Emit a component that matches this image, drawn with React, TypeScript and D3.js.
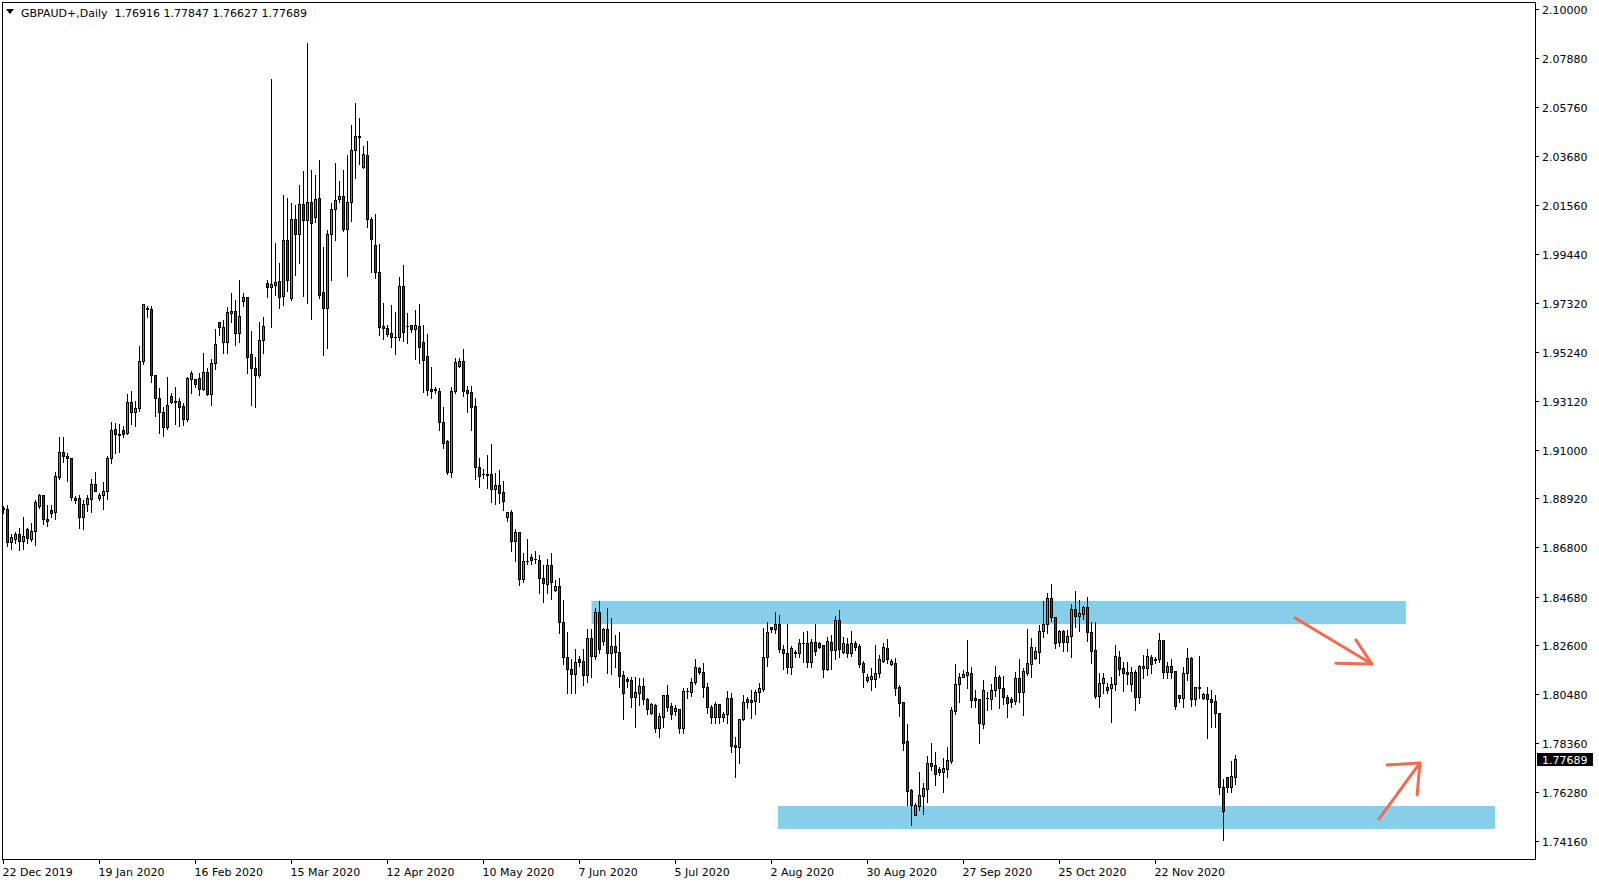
import React from 'react';
import * as d3 from 'd3';

const SYMBOL = 'GBPAUD+,Daily';
const LAST_OHLC = ['1.76916', '1.77847', '1.76627', '1.77689'];

const OPEN = [
  1.8846, 1.8845, 1.8704, 1.8718, 1.8737, 1.8707, 1.8759, 1.8717, 1.8750, 1.8860,
  1.8905, 1.8804, 1.8842, 1.8832, 1.8985, 1.9090, 1.9073, 1.9064, 1.8892, 1.8892,
  1.8813, 1.8866, 1.8890, 1.8952, 1.8893, 1.8905, 1.8922, 1.9064, 1.9189, 1.9169,
  1.9185, 1.9172, 1.9305, 1.9262, 1.9280, 1.9482, 1.9709, 1.9709, 1.9422, 1.9323,
  1.9262, 1.9198, 1.9331, 1.9310, 1.9310, 1.9289, 1.9232, 1.9407, 1.9407, 1.9409,
  1.9364, 1.9435, 1.9343, 1.9473, 1.9650, 1.9566, 1.9566, 1.9689, 1.9697, 1.9603,
  1.9743, 1.9758, 1.9513, 1.9452, 1.9424, 1.9572, 1.9818, 1.9803, 1.9812, 1.9827,
  1.9765, 2.0003, 1.9756, 2.0094, 2.0032, 2.0158, 2.0092, 2.0167, 2.0105, 2.0184,
  1.9779, 1.9713, 2.0029, 2.0137, 2.0180, 2.0193, 2.0053, 2.0167, 2.0391, 2.0451,
  2.0320, 2.0369, 2.0094, 1.9982, 1.9865, 1.9635, 1.9624, 1.9603, 1.9585, 1.9585,
  1.9805, 1.9634, 1.9637, 1.9622, 1.9633, 1.9565, 1.9505, 1.9363, 1.9360, 1.9354,
  1.9219, 1.9139, 1.9006, 1.9354, 1.9463, 1.9483, 1.9358, 1.9350, 1.9289, 1.9028,
  1.8995, 1.8995, 1.8997, 1.8931, 1.8949, 1.8919, 1.8813, 1.8833, 1.8709, 1.8747,
  1.8543, 1.8622, 1.8638, 1.8629, 1.8626, 1.8549, 1.8522, 1.8603, 1.8498, 1.8513,
  1.8358, 1.8207, 1.8155, 1.8134, 1.8200, 1.8191, 1.8130, 1.8289, 1.8214, 1.8401,
  1.8276, 1.8328, 1.8224, 1.8255, 1.8229, 1.8130, 1.8114, 1.8110, 1.8035, 1.8052,
  1.8082, 1.8026, 1.7969, 1.8002, 1.7902, 1.7949, 1.8045, 1.7996, 1.7975, 1.7983,
  1.7902, 1.8062, 1.8059, 1.8100, 1.8161, 1.8143, 1.8078, 1.7992, 1.7951, 1.8005,
  1.7951, 1.7963, 1.8031, 1.7830, 1.7822, 1.7940, 1.8028, 1.8023, 1.8020, 1.8057,
  1.8070, 1.8207, 1.8336, 1.8330, 1.8351, 1.8243, 1.8224, 1.8164, 1.8231, 1.8227,
  1.8267, 1.8267, 1.8186, 1.8272, 1.8267, 1.8259, 1.8155, 1.8273, 1.8239, 1.8367,
  1.8231, 1.8265, 1.8227, 1.8267, 1.8256, 1.8181, 1.8110, 1.8115, 1.8115, 1.8138,
  1.8191, 1.8246, 1.8177, 1.8181, 1.8078, 1.8013, 1.7847, 1.7636, 1.7528, 1.7568,
  1.7610, 1.7641, 1.7751, 1.7743, 1.7726, 1.7713, 1.7727, 1.7762, 1.7977, 1.8092,
  1.8124, 1.8131, 1.8138, 1.8032, 1.8026, 1.7919, 1.8032, 1.8029, 1.8066, 1.8122,
  1.8074, 1.8036, 1.8028, 1.8020, 1.8118, 1.8058, 1.8138, 1.8177, 1.8206, 1.8231,
  1.8320, 1.8349, 1.8461, 1.8380, 1.8272, 1.8320, 1.8274, 1.8298, 1.8414, 1.8386,
  1.8392, 1.8422, 1.8315, 1.8238, 1.8042, 1.8095, 1.8081, 1.8076, 1.8091, 1.8209,
  1.8160, 1.8143, 1.8091, 1.8143, 1.8035, 1.8162, 1.8162, 1.8210, 1.8194, 1.8198,
  1.8282, 1.8145, 1.8170, 1.8148, 1.8045, 1.8031, 1.8138, 1.8203, 1.8026, 1.8079,
  1.8033, 1.8048, 1.8026, 1.8018, 1.7967, 1.7647, 1.7690, 1.7647, 1.76916,
];

const HIGH = [
  1.8859, 1.8862, 1.8738, 1.8747, 1.8764, 1.8810, 1.8762, 1.8787, 1.8885, 1.8911,
  1.8908, 1.8862, 1.8862, 1.9003, 1.9155, 1.9155, 1.9086, 1.9064, 1.8902, 1.8906,
  1.8885, 1.8905, 1.8974, 1.9003, 1.8916, 1.8962, 1.9075, 1.9221, 1.9215, 1.9212,
  1.9203, 1.9341, 1.9354, 1.9311, 1.9548, 1.9727, 1.9720, 1.9720, 1.9422, 1.9366,
  1.9286, 1.9413, 1.9347, 1.9373, 1.9323, 1.9301, 1.9416, 1.9442, 1.9407, 1.9430,
  1.9516, 1.9453, 1.9491, 1.9620, 1.9650, 1.9660, 1.9717, 1.9775, 1.9746, 1.9832,
  1.9775, 1.9758, 1.9612, 1.9499, 1.9653, 1.9674, 1.9832, 2.0696, 1.9990, 1.9904,
  2.0198, 2.0184, 2.0163, 2.0154, 2.0241, 2.0302, 2.0852, 2.0306, 2.0284, 2.0349,
  1.9973, 2.0047, 2.0165, 2.0335, 2.0258, 2.0306, 2.0371, 2.0500, 2.0594, 2.0530,
  2.0409, 2.0431, 2.0105, 2.0116, 1.9987, 1.9732, 1.9638, 1.9723, 1.9694, 1.9845,
  1.9897, 1.9689, 1.9638, 1.9703, 1.9729, 1.9638, 1.9600, 1.9459, 1.9370, 1.9366,
  1.9285, 1.9143, 1.9370, 1.9495, 1.9495, 1.9535, 1.9376, 1.9376, 1.9323, 1.9067,
  1.9018, 1.9078, 1.9126, 1.9000, 1.9014, 1.8967, 1.8833, 1.8842, 1.8758, 1.8747,
  1.8658, 1.8717, 1.8651, 1.8666, 1.8648, 1.8605, 1.8630, 1.8655, 1.8540, 1.8547,
  1.8454, 1.8318, 1.8199, 1.8242, 1.8213, 1.8242, 1.8328, 1.8328, 1.8418, 1.8450,
  1.8332, 1.8420, 1.8375, 1.8303, 1.8318, 1.8148, 1.8124, 1.8124, 1.8124, 1.8118,
  1.8118, 1.8033, 1.8012, 1.8005, 1.7969, 1.8045, 1.8088, 1.8009, 1.8002, 1.7983,
  1.8074, 1.8074, 1.8117, 1.8199, 1.8167, 1.8184, 1.8098, 1.8002, 1.8016, 1.8005,
  1.7973, 1.8063, 1.8055, 1.7863, 1.7940, 1.8045, 1.8038, 1.8066, 1.8066, 1.8095,
  1.8332, 1.8358, 1.8336, 1.8401, 1.8389, 1.8260, 1.8351, 1.8256, 1.8239, 1.8285,
  1.8318, 1.8322, 1.8285, 1.8351, 1.8274, 1.8259, 1.8293, 1.8303, 1.8385, 1.8411,
  1.8293, 1.8289, 1.8320, 1.8279, 1.8265, 1.8192, 1.8134, 1.8160, 1.8260, 1.8217,
  1.8267, 1.8286, 1.8201, 1.8203, 1.8088, 1.8013, 1.7920, 1.7639, 1.7578, 1.7715,
  1.7667, 1.7782, 1.7839, 1.7801, 1.7733, 1.7772, 1.7822, 1.7995, 1.8178, 1.8138,
  1.8153, 1.8282, 1.8167, 1.8066, 1.8026, 1.8109, 1.8059, 1.8092, 1.8170, 1.8131,
  1.8127, 1.8045, 1.8035, 1.8145, 1.8200, 1.8160, 1.8329, 1.8289, 1.8250, 1.8346,
  1.8451, 1.8486, 1.8523, 1.8380, 1.8325, 1.8325, 1.8325, 1.8437, 1.8493, 1.8454,
  1.8428, 1.8466, 1.8358, 1.8359, 1.8138, 1.8138, 1.8095, 1.8124, 1.8260, 1.8236,
  1.8188, 1.8188, 1.8164, 1.8153, 1.8174, 1.8217, 1.8242, 1.8217, 1.8210, 1.8313,
  1.8282, 1.8188, 1.8199, 1.8148, 1.8045, 1.8164, 1.8247, 1.8207, 1.8081, 1.8213,
  1.8055, 1.8081, 1.8066, 1.8045, 1.7967, 1.7683, 1.7692, 1.7761, 1.77847,
];

const LOW = [
  1.8829, 1.8687, 1.8672, 1.8698, 1.8669, 1.8672, 1.8698, 1.8709, 1.8690, 1.8851,
  1.8782, 1.8773, 1.8810, 1.8802, 1.8974, 1.9050, 1.8968, 1.8885, 1.8873, 1.8764,
  1.8760, 1.8835, 1.8833, 1.8922, 1.8885, 1.8847, 1.8890, 1.9045, 1.9086, 1.9091,
  1.9155, 1.9169, 1.9212, 1.9205, 1.9269, 1.9469, 1.9674, 1.9392, 1.9248, 1.9175,
  1.9162, 1.9189, 1.9301, 1.9212, 1.9205, 1.9209, 1.9226, 1.9347, 1.9371, 1.9337,
  1.9358, 1.9336, 1.9295, 1.9450, 1.9595, 1.9519, 1.9519, 1.9653, 1.9551, 1.9566,
  1.9720, 1.9433, 1.9294, 1.9286, 1.9416, 1.9519, 1.9760, 1.9628, 1.9768, 1.9710,
  1.9724, 1.9785, 1.9746, 1.9854, 1.9907, 1.9765, 1.9734, 1.9665, 2.0083, 1.9753,
  1.9509, 1.9541, 1.9832, 2.0006, 2.0169, 2.0043, 1.9849, 2.0088, 2.0273, 2.0332,
  2.0316, 2.0059, 1.9868, 1.9842, 1.9595, 1.9577, 1.9591, 1.9545, 1.9513, 1.9574,
  1.9571, 1.9560, 1.9609, 1.9491, 1.9476, 1.9351, 1.9336, 1.9325, 1.9347, 1.9186,
  1.9107, 1.8997, 1.8985, 1.9347, 1.9459, 1.9334, 1.9265, 1.9186, 1.8976, 1.8942,
  1.8978, 1.8938, 1.8877, 1.8866, 1.8870, 1.8842, 1.8796, 1.8666, 1.8623, 1.8519,
  1.8532, 1.8608, 1.8608, 1.8612, 1.8485, 1.8447, 1.8485, 1.8457, 1.8494, 1.8313,
  1.8178, 1.8052, 1.8052, 1.8055, 1.8170, 1.8089, 1.8102, 1.8121, 1.8199, 1.8224,
  1.8259, 1.8138, 1.8135, 1.8167, 1.8078, 1.7940, 1.8081, 1.7995, 1.7908, 1.8002,
  1.8006, 1.7963, 1.7963, 1.7887, 1.7863, 1.7906, 1.7977, 1.7943, 1.7958, 1.7880,
  1.7883, 1.8031, 1.8041, 1.8092, 1.8135, 1.8035, 1.7969, 1.7926, 1.7926, 1.7926,
  1.7934, 1.7926, 1.7801, 1.7690, 1.7753, 1.7938, 1.7988, 1.7945, 1.7963, 1.8015,
  1.8062, 1.8171, 1.8318, 1.8311, 1.8232, 1.8157, 1.8138, 1.8135, 1.8210, 1.8210,
  1.8188, 1.8167, 1.8167, 1.8217, 1.8246, 1.8121, 1.8153, 1.8155, 1.8201, 1.8207,
  1.8224, 1.8207, 1.8213, 1.8239, 1.8167, 1.8078, 1.8102, 1.8066, 1.8081, 1.8124,
  1.8188, 1.8181, 1.8174, 1.8045, 1.7954, 1.7808, 1.7571, 1.7485, 1.7528, 1.7550,
  1.7532, 1.7584, 1.7722, 1.7657, 1.7700, 1.7627, 1.7693, 1.7753, 1.7963, 1.8016,
  1.8121, 1.8076, 1.7995, 1.7995, 1.7840, 1.7904, 1.7980, 1.7983, 1.8041, 1.7989,
  1.8006, 1.7951, 1.7995, 1.8006, 1.8016, 1.7959, 1.8131, 1.8124, 1.8199, 1.8184,
  1.8296, 1.8313, 1.8365, 1.8246, 1.8257, 1.8236, 1.8236, 1.8210, 1.8339, 1.8321,
  1.8373, 1.8279, 1.8184, 1.8031, 1.7995, 1.8052, 1.8055, 1.7930, 1.8068, 1.8131,
  1.8063, 1.8092, 1.8063, 1.7980, 1.8012, 1.8117, 1.8131, 1.8138, 1.8181, 1.8188,
  1.8117, 1.8117, 1.8117, 1.7985, 1.8016, 1.7995, 1.8110, 1.7998, 1.8002, 1.8031,
  1.8029, 1.7858, 1.7908, 1.7908, 1.7617, 1.7420, 1.7628, 1.7628, 1.76627,
];

const CLOSE = [
  1.8849, 1.8705, 1.8724, 1.8737, 1.8707, 1.8731, 1.8720, 1.8751, 1.8876, 1.8905,
  1.8802, 1.8796, 1.8830, 1.8988, 1.9090, 1.9075, 1.9064, 1.8898, 1.8885, 1.8813,
  1.8866, 1.8892, 1.8952, 1.8925, 1.8905, 1.8922, 1.9064, 1.9185, 1.9170, 1.9163,
  1.9170, 1.9305, 1.9264, 1.9281, 1.9483, 1.9727, 1.9712, 1.9422, 1.9323, 1.9262,
  1.9198, 1.9292, 1.9308, 1.9308, 1.9286, 1.9232, 1.9409, 1.9430, 1.9383, 1.9364,
  1.9435, 1.9343, 1.9473, 1.9557, 1.9628, 1.9628, 1.9693, 1.9697, 1.9603, 1.9677,
  1.9758, 1.9502, 1.9452, 1.9422, 1.9572, 1.9633, 1.9803, 1.9814, 1.9822, 1.9760,
  2.0003, 1.9833, 2.0094, 2.0032, 2.0158, 2.0092, 2.0167, 2.0076, 2.0180, 1.9768,
  1.9713, 2.0029, 2.0137, 2.0175, 2.0193, 2.0053, 2.0167, 2.0391, 2.0451, 2.0449,
  2.0373, 2.0094, 2.0010, 1.9865, 1.9631, 1.9624, 1.9600, 1.9585, 1.9586, 1.9805,
  1.9609, 1.9635, 1.9622, 1.9637, 1.9542, 1.9489, 1.9358, 1.9353, 1.9361, 1.9219,
  1.9132, 1.9006, 1.9354, 1.9478, 1.9483, 1.9355, 1.9347, 1.9286, 1.9025, 1.8989,
  1.8996, 1.8994, 1.8931, 1.8949, 1.8916, 1.8879, 1.8833, 1.8709, 1.8747, 1.8543,
  1.8622, 1.8621, 1.8628, 1.8630, 1.8547, 1.8526, 1.8603, 1.8530, 1.8513, 1.8357,
  1.8207, 1.8155, 1.8134, 1.8186, 1.8187, 1.8130, 1.8289, 1.8214, 1.8401, 1.8244,
  1.8328, 1.8224, 1.8255, 1.8229, 1.8128, 1.8052, 1.8107, 1.8035, 1.8057, 1.8082,
  1.8026, 1.7983, 1.8005, 1.7902, 1.7955, 1.8045, 1.7995, 1.7963, 1.7990, 1.7902,
  1.8062, 1.8063, 1.8100, 1.8167, 1.8143, 1.8078, 1.7992, 1.7951, 1.8005, 1.7949,
  1.7963, 1.8031, 1.7827, 1.7822, 1.7940, 1.8013, 1.8016, 1.8016, 1.8057, 1.8074,
  1.8207, 1.8315, 1.8330, 1.8351, 1.8243, 1.8224, 1.8164, 1.8246, 1.8224, 1.8267,
  1.8268, 1.8188, 1.8272, 1.8236, 1.8253, 1.8157, 1.8276, 1.8239, 1.8367, 1.8243,
  1.8267, 1.8227, 1.8267, 1.8253, 1.8177, 1.8144, 1.8124, 1.8127, 1.8138, 1.8199,
  1.8250, 1.8201, 1.8190, 1.8076, 1.8012, 1.7840, 1.7633, 1.7571, 1.7571, 1.7613,
  1.7646, 1.7751, 1.7740, 1.7706, 1.7713, 1.7729, 1.7765, 1.7980, 1.8092, 1.8122,
  1.8135, 1.8143, 1.8024, 1.8023, 1.7923, 1.8065, 1.8030, 1.8066, 1.8122, 1.8074,
  1.8035, 1.8012, 1.8016, 1.8118, 1.8058, 1.8148, 1.8181, 1.8250, 1.8234, 1.8320,
  1.8351, 1.8461, 1.8380, 1.8267, 1.8320, 1.8274, 1.8298, 1.8414, 1.8385, 1.8397,
  1.8422, 1.8315, 1.8236, 1.8042, 1.8095, 1.8119, 1.8068, 1.8091, 1.8213, 1.8158,
  1.8138, 1.8137, 1.8143, 1.8035, 1.8170, 1.8170, 1.8213, 1.8177, 1.8201, 1.8282,
  1.8145, 1.8170, 1.8145, 1.7999, 1.8031, 1.8138, 1.8203, 1.8026, 1.8078, 1.8077,
  1.8048, 1.8026, 1.8016, 1.7967, 1.7647, 1.7547, 1.7650, 1.7696, 1.77689,
];

const DATE_LABELS = [
  '22 Dec 2019', '19 Jan 2020', '16 Feb 2020', '15 Mar 2020', '12 Apr 2020', '10 May 2020',
  '7 Jun 2020', '5 Jul 2020', '2 Aug 2020', '30 Aug 2020', '27 Sep 2020', '25 Oct 2020', '22 Nov 2020',
];
const DATE_LABEL_BARS = [0, 24, 48, 72, 96, 120, 144, 168, 192, 216, 240, 264, 288];

const PRICE_TICKS = [
  2.1, 2.0788, 2.0576, 2.0368, 2.0156, 1.9944, 1.9732, 1.9524, 1.9312,
  1.91, 1.8892, 1.868, 1.8468, 1.826, 1.8048, 1.7836, 1.7628, 1.7416,
];

// zones (bar index range, price range)
const ZONE_START = [147, 193.6];
const ZONE_END = [350.6, 372.9];
const ZONE_TOP = [1.8450, 1.7567];
const ZONE_BOTTOM = [1.8350, 1.7468];

// arrows: shaft start, tip, two head ends (bar index, price)
const ARROW_FROM = [[322.9, 1.8376], [343.9, 1.7511]];
const ARROW_TIP = [[342.1, 1.8178], [354.1, 1.7752]];
const ARROW_HEAD_A = [[333.1, 1.8182], [345.9, 1.7743]];
const ARROW_HEAD_B = [[338.1, 1.8282], [353.4, 1.7614]];

const W = 1599;
const H = 884;
const FONT = '"DejaVu Sans", Verdana, sans-serif';
const BULL = '#10D010';
const BEAR = '#E00000';
const ZONE_COLOR = '#87CEEB';
const ARROW_COLOR = '#F46A4E';

export default function App() {
  const n = OPEN.length;
  const x = d3.scaleLinear().domain([0, n - 1]).range([3.5, 3.5 + 4 * (n - 1)]);
  const y = d3.scaleLinear().domain([1.7416, 2.0788]).range([841, 58]);
  const left = 2, top = 2, right = 1535, bottom = 859;

  const candles = d3.range(n).map((i) => {
    const o = OPEN[i], c = CLOSE[i];
    const hi = Math.max(HIGH[i], o, c), lo = Math.min(LOW[i], o, c);
    const cx = Math.floor(x(i)) + 0.5;
    const yH = Math.round(y(hi)), yL = Math.round(y(lo));
    const yT = Math.round(y(Math.max(o, c))), yB = Math.round(y(Math.min(o, c)));
    const bull = c >= o;
    const els = [
      <rect key="w" x={cx - 0.5} y={yH} width={1} height={Math.max(1, yL - yH + 1)} fill="#000" />,
    ];
    if (yB - yT < 2) {
      els.push(<rect key="b" x={cx - 1.5} y={yT} width={3} height={Math.max(1, yB - yT + 1)} fill="#000" />);
    } else {
      els.push(<rect key="b" x={cx - 1.5} y={yT} width={3} height={yB - yT + 1} fill="#000" />);
      els.push(<rect key="f" x={cx - 0.5} y={yT + 1} width={1} height={yB - yT - 1} fill={bull ? BULL : BEAR} />);
    }
    return <g key={i}>{els}</g>;
  });

  const pt = (p: number[]) => `${x(p[0])},${y(p[1])}`;

  const lastY = Math.round(y(CLOSE[n - 1]));

  return (
    <svg width={W} height={H} style={{ position: 'absolute', left: 0, top: 0, background: '#fff' }}
      fontFamily={FONT} fontSize={11}>
      <rect x={0} y={0} width={W} height={H} fill="#fff" />
      {/* zones */}
      {ZONE_START.map((s, k) => (
        <rect key={'z' + k} x={x(s)} y={y(ZONE_TOP[k])} width={x(ZONE_END[k]) - x(s)}
          height={y(ZONE_BOTTOM[k]) - y(ZONE_TOP[k])} fill={ZONE_COLOR} />
      ))}
      {/* candles */}
      <g shapeRendering="crispEdges">{candles}</g>
      {/* arrows */}
      {ARROW_FROM.map((f, k) => (
        <g key={'a' + k} stroke={ARROW_COLOR} strokeWidth={3} fill="none" strokeLinecap="round" strokeLinejoin="round">
          <polyline points={`${pt(f)} ${pt(ARROW_TIP[k])}`} />
          <polyline points={`${pt(ARROW_HEAD_A[k])} ${pt(ARROW_TIP[k])} ${pt(ARROW_HEAD_B[k])}`} />
        </g>
      ))}
      {/* frame */}
      <g shapeRendering="crispEdges" stroke="#000" strokeWidth={1}>
        <line x1={left} y1={top + 0.5} x2={right + 1} y2={top + 0.5} />
        <line x1={left + 0.5} y1={top} x2={left + 0.5} y2={bottom + 1} />
        <line x1={right + 0.5} y1={top} x2={right + 0.5} y2={bottom + 1} />
        <line x1={left} y1={bottom + 0.5} x2={right + 1} y2={bottom + 0.5} />
      </g>
      {/* price axis */}
      {PRICE_TICKS.map((v) => {
        const ty = Math.round(y(v)) + 0.5;
        return (
          <g key={'p' + v}>
            <line x1={right + 1} x2={right + 4} y1={ty} y2={ty} stroke="#000" shapeRendering="crispEdges" />
            <text x={1542} y={ty + 4} fill="#000">{v.toFixed(5)}</text>
          </g>
        );
      })}
      {/* last price */}
      <rect x={1537} y={lastY - 6} width={56} height={13} fill="#000" />
      <text x={1542} y={lastY + 4.5} fill="#fff">{CLOSE[n - 1].toFixed(5)}</text>
      {/* time axis */}
      {DATE_LABEL_BARS.map((b, k) => {
        const tx = Math.floor(x(b)) + 0.5;
        return (
          <g key={'d' + k}>
            <line x1={tx} x2={tx} y1={bottom + 1} y2={bottom + 5} stroke="#000" shapeRendering="crispEdges" />
            <text x={tx - 1} y={876} fill="#000">{DATE_LABELS[k]}</text>
          </g>
        );
      })}
      {/* header */}
      <polygon points="6,9 14,9 10,14" fill="#000" />
      <text x={21} y={16.5} fill="#000">{SYMBOL + '\u00a0\u00a0' + LAST_OHLC.join(' ')}</text>
    </svg>
  );
}
